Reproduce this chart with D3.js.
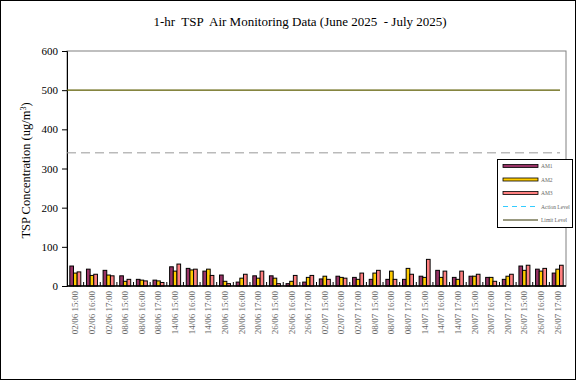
<!DOCTYPE html>
<html><head><meta charset="utf-8">
<script src="https://cdn.jsdelivr.net/npm/d3@7/dist/d3.min.js"></script>
<style>body{margin:0;background:#fff}svg{display:block}text{white-space:pre}</style>
</head><body>
<svg id="c" width="576" height="380"></svg>
<script>
const categories = ["02/06 15:00","02/06 16:00","02/06 17:00","08/06 15:00","08/06 16:00","08/06 17:00",
"14/06 15:00","14/06 16:00","14/06 17:00","20/06 15:00","20/06 16:00","20/06 17:00",
"26/06 15:00","26/06 16:00","26/06 17:00","02/07 15:00","02/07 16:00","02/07 17:00",
"08/07 15:00","08/07 16:00","08/07 17:00","14/07 15:00","14/07 16:00","14/07 17:00",
"20/07 15:00","20/07 16:00","20/07 17:00","26/07 15:00","26/07 16:00","26/07 17:00"];
const am1 = [51,43,40,26,17,15,49,45,38,28,10,26,26,6,10,18,25,22,17,17,17,25,40,22,25,22,17,51,43,33];
const am2 = [33,27,28,12,15,13,38,41,43,12,20,20,20,12,22,25,22,17,33,38,45,22,22,17,25,22,25,40,38,43];
const am3 = [36,30,26,17,13,9,56,43,27,6,30,38,6,27,27,17,20,33,40,17,30,68,38,38,30,12,30,53,45,53];
const seriesNames = ["AM1","AM2","AM3"];
const yTicks = [0,100,200,300,400,500,600];
const actionLevel = 340;
const limitLevel = 500;

const svg = d3.select("#c");
const W = 576, H = 380;
const m = {l:67, r:566, t:51, b:286};
const colors = ["#993366","#FFCC00","#FF8080"];
const serif = "'Liberation Serif','Times New Roman',serif";

svg.append("rect").attr("x",0.5).attr("y",0.5).attr("width",W-1).attr("height",H-1)
  .attr("fill","#fff").attr("stroke","#000");

const x = d3.scaleBand().domain(categories).range([m.l,m.r]).paddingInner(0.34).paddingOuter(0.17);
const xs = d3.scaleBand().domain(seriesNames).range([0,x.bandwidth()]);
const y = d3.scaleLinear().domain([0,600]).range([m.b,m.t]);

// plot border
svg.append("rect").attr("x",m.l).attr("y",m.t).attr("width",m.r-m.l).attr("height",m.b-m.t)
  .attr("fill","none").attr("stroke","#808080");

// title
svg.append("text").attr("x",300).attr("y",26).attr("text-anchor","middle")
  .attr("font-family",serif).attr("font-size",13).text("1-hr  TSP  Air Monitoring Data (June 2025  - July 2025)");

// y axis
const ya = svg.append("g").attr("transform",`translate(${m.l},0)`)
  .call(d3.axisLeft(y).tickValues(yTicks).tickSize(5).tickPadding(4));
ya.select(".domain").attr("stroke","#000");
ya.selectAll("text").attr("font-family",serif).attr("font-size",11).attr("fill","#000");

const yl = svg.append("text").attr("transform",`translate(30,${(m.t+m.b)/2+2}) rotate(-90)`)
  .attr("text-anchor","middle").attr("font-family",serif).attr("font-size",12.5);
yl.append("tspan").text("TSP Concentration (ug/m");
yl.append("tspan").attr("baseline-shift","super").attr("font-size",8).text("3");
yl.append("tspan").text(")");

// limit lines
svg.append("line").attr("x1",m.l).attr("x2",m.r-6).attr("y1",y(limitLevel)).attr("y2",y(limitLevel))
  .attr("stroke","#5c5c00").attr("stroke-width",1.2);
svg.append("line").attr("x1",m.l).attr("x2",m.r-6).attr("y1",y(actionLevel)).attr("y2",y(actionLevel))
  .attr("stroke","#999999").attr("stroke-width",1).attr("stroke-dasharray","9,5");

// bars
const data = [am1,am2,am3];
const g = svg.append("g");
categories.forEach((c,i)=>{
  seriesNames.forEach((s,k)=>{
    const v = data[k][i];
    g.append("rect").attr("x",x(c)+xs(s)).attr("y",y(v)).attr("width",xs.bandwidth())
      .attr("height",y(0)-y(v)).attr("fill",colors[k]).attr("stroke","#000").attr("stroke-width",1);
  });
});

// x axis
svg.append("line").attr("x1",m.l).attr("x2",m.r).attr("y1",m.b).attr("y2",m.b).attr("stroke","#000").attr("stroke-width",1.5);
const step = (m.r-m.l)/categories.length;
d3.range(1,categories.length).forEach(i=>{
  svg.append("line").attr("x1",m.l+i*step).attr("x2",m.l+i*step).attr("y1",m.b).attr("y2",m.b-4).attr("stroke","#000");
});
categories.forEach(c=>{
  svg.append("text").attr("transform",`translate(${x(c)+x.bandwidth()/2+3},${m.b+5}) rotate(-90)`)
    .attr("text-anchor","end").attr("font-family",serif).attr("font-size",9).attr("fill","#666").text(c);
});

// legend
const lg = svg.append("g");
lg.append("rect").attr("x",497.5).attr("y",159.5).attr("width",75).attr("height",68).attr("fill","#fff").attr("stroke","#000");
const items = [
  {n:"AM1",c:colors[0],bar:true},{n:"AM2",c:colors[1],bar:true},{n:"AM3",c:colors[2],bar:true},
  {n:"Action Level",c:"#33CCFF",dash:"5,4"},{n:"Limit Level",c:"#333300"}];
items.forEach((it,i)=>{
  const yy = 166 + i*13.5;
  if(it.bar){
    lg.append("rect").attr("x",503).attr("y",yy-1.5).attr("width",35).attr("height",3).attr("fill",it.c).attr("stroke","#000").attr("stroke-width",0.8);
  } else {
    lg.append("line").attr("x1",503).attr("x2",538).attr("y1",yy).attr("y2",yy).attr("stroke",it.c)
      .attr("stroke-width",1).attr("stroke-dasharray",it.dash||null);
  }
  lg.append("text").attr("x",541).attr("y",yy+2).attr("font-family",serif).attr("font-size",5.5).attr("fill","#666").text(it.n);
});
</script>
</body></html>
